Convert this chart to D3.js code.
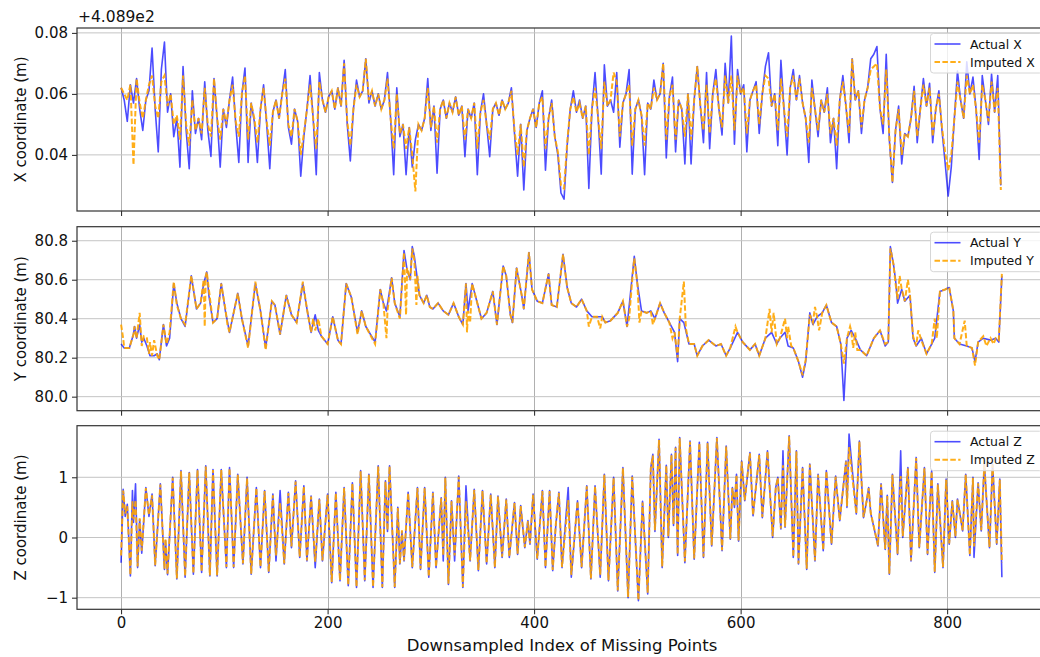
<!DOCTYPE html>
<html><head><meta charset="utf-8">
<script src="https://cdn.jsdelivr.net/npm/d3@7"></script>
<style>body{margin:0;background:#fff}svg{display:block}text{font-family:"DejaVu Sans",sans-serif;fill:#111}</style>
</head><body><svg id="c" width="1040" height="657"></svg>
<script>
// ---------- data ----------
const xTickValues = [0, 200, 400, 600, 800];
const xOffsetText = "+4.089e2";
const xSampleIndex = d3.range(0, 855, 3); // downsampled index positions for X series
const xActual = [
0.062,0.058,0.051,0.063,0.057,0.065,0.055,0.048,0.058,0.061,
0.075,0.055,0.041,0.068,0.077,0.054,0.060,0.046,0.052,0.036,
0.069,0.048,0.0355,0.061,0.047,0.052,0.045,0.064,0.048,0.0395,
0.065,0.052,0.036,0.055,0.049,0.058,0.0655,0.050,0.0375,0.060,
0.0685,0.0375,0.057,0.051,0.0375,0.055,0.063,0.050,0.0355,0.054,
0.058,0.052,0.060,0.068,0.049,0.0435,0.055,0.051,0.033,0.046,
0.055,0.066,0.052,0.0335,0.067,0.058,0.054,0.059,0.061,0.055,
0.062,0.056,0.071,0.050,0.038,0.055,0.0645,0.059,0.061,0.0715,
0.057,0.061,0.056,0.060,0.055,0.058,0.067,0.052,0.0335,0.062,
0.046,0.050,0.0335,0.049,0.036,0.045,0.050,0.048,0.052,0.065,
0.048,0.056,0.034,0.055,0.058,0.052,0.057,0.054,0.059,0.053,
0.056,0.0394,0.055,0.052,0.057,0.0335,0.054,0.060,0.050,0.0394,
0.055,0.057,0.053,0.058,0.055,0.057,0.062,0.047,0.033,0.050,
0.0285,0.048,0.052,0.055,0.049,0.057,0.061,0.035,0.052,0.058,
0.046,0.040,0.0275,0.0255,0.043,0.055,0.061,0.054,0.058,0.052,
0.056,0.029,0.055,0.067,0.052,0.0337,0.0695,0.056,0.058,0.054,
0.067,0.0425,0.057,0.060,0.068,0.0337,0.055,0.058,0.053,0.0335,
0.057,0.055,0.0645,0.058,0.060,0.070,0.039,0.059,0.0655,0.041,
0.058,0.055,0.037,0.060,0.037,0.058,0.069,0.056,0.044,0.067,
0.042,0.060,0.068,0.055,0.0465,0.070,0.057,0.079,0.0435,0.068,
0.060,0.063,0.041,0.058,0.061,0.064,0.047,0.060,0.069,0.0735,
0.056,0.060,0.043,0.071,0.055,0.040,0.062,0.068,0.058,0.066,
0.057,0.052,0.0375,0.0645,0.055,0.046,0.058,0.054,0.062,0.044,
0.052,0.0355,0.058,0.066,0.056,0.044,0.0715,0.058,0.061,0.047,
0.058,0.062,0.0715,0.073,0.0755,0.055,0.047,0.073,0.045,0.031,
0.048,0.056,0.037,0.047,0.046,0.052,0.0625,0.044,0.055,0.065,
0.056,0.0635,0.044,0.055,0.061,0.048,0.0375,0.0265,0.036,0.052,
0.0675,0.058,0.052,0.0705,0.060,0.0655,0.055,0.0385,0.066,0.058,0.050,0.0665,0.054,0.066,0.030];
const xImputed = [
0.062,0.060,0.058,0.063,0.0367,0.065,0.057,0.052,0.058,0.063,
0.066,0.056,0.052,0.064,0.066,0.056,0.060,0.050,0.053,0.045,
0.066,0.050,0.043,0.058,0.048,0.052,0.047,0.062,0.050,0.046,
0.065,0.052,0.045,0.055,0.050,0.058,0.063,0.051,0.046,0.060,
0.066,0.045,0.057,0.052,0.044,0.055,0.062,0.051,0.043,0.054,
0.058,0.052,0.060,0.065,0.050,0.046,0.055,0.051,0.040,0.047,
0.055,0.063,0.052,0.042,0.064,0.058,0.054,0.059,0.061,0.055,
0.062,0.056,0.070,0.051,0.043,0.055,0.063,0.059,0.061,0.0715,
0.058,0.061,0.056,0.060,0.055,0.058,0.065,0.052,0.042,0.060,
0.047,0.050,0.042,0.049,0.040,0.028,0.050,0.048,0.052,0.062,
0.049,0.056,0.044,0.055,0.058,0.052,0.057,0.054,0.059,0.053,
0.056,0.045,0.055,0.052,0.057,0.042,0.054,0.058,0.050,0.045,
0.055,0.057,0.053,0.058,0.055,0.057,0.061,0.048,0.040,0.050,
0.036,0.048,0.052,0.055,0.049,0.057,0.059,0.042,0.052,0.057,
0.046,0.041,0.030,0.029,0.044,0.055,0.059,0.054,0.057,0.052,
0.056,0.040,0.055,0.062,0.052,0.042,0.064,0.056,0.058,0.067,
0.064,0.046,0.057,0.060,0.063,0.043,0.055,0.058,0.053,0.043,
0.057,0.055,0.062,0.058,0.060,0.070,0.045,0.059,0.063,0.045,
0.058,0.055,0.046,0.060,0.045,0.058,0.069,0.056,0.048,0.063,
0.047,0.060,0.065,0.055,0.049,0.066,0.057,0.066,0.048,0.066,
0.060,0.062,0.047,0.058,0.061,0.063,0.050,0.060,0.066,0.065,
0.056,0.060,0.048,0.065,0.055,0.046,0.062,0.066,0.058,0.065,
0.057,0.052,0.044,0.062,0.055,0.048,0.058,0.054,0.060,0.047,
0.052,0.043,0.058,0.064,0.056,0.047,0.0715,0.058,0.061,0.049,
0.058,0.062,0.068,0.069,0.070,0.055,0.050,0.068,0.046,0.031,
0.048,0.055,0.040,0.047,0.046,0.052,0.061,0.046,0.055,0.063,
0.056,0.062,0.046,0.055,0.060,0.049,0.041,0.035,0.040,0.052,
0.064,0.058,0.052,0.066,0.060,0.063,0.055,0.044,0.063,0.058,0.051,0.064,0.054,0.062,0.0285];

// Y series as [index, value] pairs
const yActual = [[0,80.27],[3,80.25],[8,80.25],[12,80.32],[13,80.36],[15,80.30],[18,80.37],[20,80.28],[22,80.30],[25,80.26],[28,80.21],[32,80.21],[35,80.22],[37,80.19],[41,80.37],[44,80.26],[47,80.30],[51,80.58],[54,80.48],[58,80.40],[62,80.36],[68,80.62],[73,80.45],[77,80.48],[80,80.58],[83,80.64],[85,80.52],[89,80.38],[93,80.40],[97,80.58],[101,80.44],[105,80.33],[113,80.53],[117,80.40],[123,80.26],[130,80.58],[135,80.44],[140,80.25],[146,80.49],[149,80.47],[154,80.32],[160,80.52],[165,80.42],[170,80.38],[176,80.58],[180,80.45],[184,80.33],[188,80.42],[191,80.34],[194,80.31],[200,80.27],[205,80.41],[210,80.29],[213,80.27],[218,80.58],[223,80.51],[229,80.33],[233,80.44],[237,80.36],[246,80.28],[251,80.55],[254,80.48],[257,80.44],[262,80.61],[265,80.48],[270,80.41],[274,80.75],[277,80.65],[280,80.60],[282,80.77],[284,80.72],[289,80.52],[293,80.48],[296,80.52],[299,80.46],[302,80.45],[307,80.48],[312,80.44],[317,80.42],[322,80.48],[327,80.41],[331,80.37],[334,80.58],[336,80.44],[340,80.58],[344,80.50],[349,80.40],[354,80.43],[360,80.54],[364,80.37],[370,80.67],[373,80.62],[377,80.42],[379,80.38],[383,80.66],[388,80.52],[390,80.45],[395,80.74],[398,80.55],[403,80.49],[408,80.48],[414,80.63],[417,80.47],[422,80.46],[428,80.73],[432,80.56],[436,80.48],[441,80.46],[446,80.50],[451,80.44],[456,80.41],[461,80.41],[466,80.41],[469,80.38],[474,80.39],[481,80.43],[486,80.49],[490,80.36],[497,80.72],[500,80.58],[504,80.44],[509,80.43],[513,80.44],[517,80.40],[522,80.48],[526,80.43],[531,80.38],[536,80.33],[539,80.18],[541,80.40],[545,80.38],[550,80.27],[555,80.27],[558,80.21],[563,80.26],[569,80.29],[576,80.26],[581,80.27],[586,80.21],[590,80.25],[597,80.33],[602,80.28],[609,80.24],[614,80.27],[618,80.21],[624,80.30],[630,80.33],[635,80.27],[638,80.30],[643,80.33],[646,80.26],[651,80.25],[656,80.18],[660,80.10],[663,80.18],[667,80.43],[670,80.37],[674,80.41],[679,80.43],[683,80.47],[688,80.38],[693,80.36],[697,80.27],[700,79.98],[703,80.30],[707,80.34],[711,80.30],[716,80.24],[722,80.21],[729,80.30],[735,80.34],[740,80.26],[743,80.28],[745,80.77],[748,80.68],[750,80.60],[752,80.48],[756,80.55],[759,80.49],[764,80.52],[767,80.30],[770,80.26],[775,80.30],[780,80.22],[785,80.27],[788,80.30],[793,80.54],[798,80.55],[802,80.56],[806,80.44],[807,80.30],[812,80.27],[819,80.26],[824,80.25],[827,80.18],[830,80.28],[835,80.30],[842,80.29],[847,80.30],[850,80.28],[853,80.62]];
const yImputed = [[0,80.37],[2,80.30],[3,80.25],[8,80.25],[12,80.32],[13,80.36],[15,80.30],[18,80.43],[20,80.26],[22,80.31],[25,80.30],[27,80.22],[28,80.28],[30,80.21],[32,80.29],[35,80.21],[37,80.19],[41,80.37],[44,80.27],[47,80.33],[51,80.59],[54,80.47],[58,80.40],[62,80.37],[68,80.62],[73,80.45],[77,80.48],[80,80.60],[81,80.36],[82,80.62],[83,80.64],[85,80.55],[89,80.38],[93,80.40],[97,80.58],[101,80.45],[103,80.37],[105,80.33],[113,80.53],[117,80.40],[123,80.25],[130,80.59],[135,80.44],[140,80.24],[146,80.49],[149,80.47],[154,80.32],[160,80.52],[165,80.42],[170,80.38],[176,80.59],[180,80.45],[184,80.33],[186,80.40],[188,80.34],[191,80.40],[194,80.31],[200,80.27],[205,80.41],[210,80.29],[213,80.27],[218,80.58],[223,80.51],[229,80.32],[233,80.44],[237,80.36],[246,80.27],[251,80.55],[254,80.48],[257,80.30],[258,80.44],[262,80.61],[265,80.48],[270,80.40],[274,80.74],[276,80.42],[277,80.66],[280,80.60],[282,80.76],[284,80.70],[286,80.47],[287,80.62],[289,80.52],[293,80.48],[296,80.52],[299,80.46],[302,80.45],[307,80.48],[312,80.44],[317,80.42],[322,80.48],[327,80.41],[331,80.37],[334,80.58],[335,80.33],[336,80.44],[338,80.38],[340,80.58],[344,80.50],[349,80.40],[354,80.43],[360,80.54],[364,80.37],[370,80.67],[373,80.62],[377,80.42],[379,80.38],[383,80.66],[388,80.52],[390,80.45],[395,80.74],[398,80.55],[403,80.49],[408,80.48],[414,80.63],[417,80.47],[422,80.46],[428,80.73],[432,80.56],[436,80.48],[441,80.46],[446,80.50],[451,80.44],[453,80.36],[456,80.41],[461,80.41],[464,80.35],[466,80.41],[469,80.38],[474,80.39],[481,80.43],[486,80.49],[490,80.36],[492,80.40],[495,80.60],[497,80.71],[500,80.58],[502,80.38],[504,80.44],[509,80.43],[513,80.44],[515,80.37],[517,80.40],[522,80.48],[526,80.43],[531,80.38],[534,80.30],[536,80.33],[539,80.20],[541,80.40],[545,80.59],[547,80.35],[550,80.27],[555,80.27],[558,80.21],[563,80.26],[569,80.29],[576,80.26],[581,80.27],[586,80.21],[590,80.25],[595,80.36],[597,80.33],[602,80.28],[609,80.24],[614,80.27],[618,80.21],[624,80.30],[628,80.45],[630,80.33],[632,80.43],[635,80.27],[638,80.30],[643,80.40],[645,80.30],[646,80.36],[649,80.26],[651,80.25],[656,80.18],[660,80.11],[663,80.19],[667,80.42],[670,80.38],[672,80.46],[674,80.41],[676,80.34],[679,80.43],[683,80.47],[688,80.38],[693,80.36],[697,80.27],[700,80.17],[703,80.30],[706,80.36],[707,80.34],[709,80.25],[711,80.33],[713,80.24],[716,80.24],[722,80.21],[729,80.30],[735,80.34],[740,80.27],[743,80.28],[745,80.76],[748,80.68],[750,80.58],[752,80.50],[754,80.62],[756,80.55],[759,80.49],[762,80.60],[764,80.52],[767,80.31],[770,80.26],[772,80.34],[775,80.29],[780,80.22],[785,80.27],[788,80.40],[790,80.30],[793,80.54],[798,80.55],[802,80.56],[806,80.44],[807,80.30],[812,80.27],[817,80.39],[819,80.26],[824,80.25],[827,80.16],[830,80.28],[835,80.31],[838,80.26],[842,80.30],[845,80.27],[847,80.30],[850,80.29],[853,80.63]];

// Z series as [index, value] pairs (peaks and troughs)
const zActual = [[0,-0.42],[2,0.80],[4,0.35],[6,0.55],[9,-0.64],[11,0.78],[12,0.25],[14,0.89],[16,-0.50],[18,0.30],[20,-0.26],[24,0.83],[27,0.35],[30,0.72],[33,-0.47],[38,0.89],[42,-0.53],[43,-0.05],[45,-0.62],[50,1.00],[54,-0.69],[58,1.11],[62,-0.66],[66,1.08],[70,-0.61],[74,1.13],[78,-0.58],[82,1.19],[86,-0.64],[89,1.13],[93,-0.64],[97,1.13],[102,-0.50],[105,1.16],[109,-0.50],[113,1.05],[118,-0.44],[122,1.00],[126,-0.61],[131,0.83],[135,-0.50],[139,0.78],[143,-0.58],[147,0.72],[150,-0.39],[154,0.78],[158,-0.44],[162,0.75],[165,-0.17],[169,0.94],[173,-0.33],[177,0.86],[180,-0.39],[184,0.69],[188,-0.50],[192,0.64],[195,-0.39],[200,0.72],[204,-0.75],[208,0.75],[212,-0.72],[216,0.83],[220,-0.80],[224,0.91],[228,-0.83],[232,1.11],[236,-0.72],[240,1.05],[244,-0.83],[249,1.19],[253,-0.83],[256,0.94],[258,0.10],[260,1.19],[265,-0.83],[268,0.50],[270,-0.44],[272,0.10],[274,-0.39],[278,0.75],[282,-0.50],[287,0.83],[290,-0.53],[294,0.83],[298,-0.66],[302,0.75],[305,-0.50],[310,0.66],[312,-0.39],[314,1.00],[317,-0.78],[320,0.61],[323,-0.39],[327,1.02],[331,-0.83],[334,0.86],[338,-0.39],[342,0.80],[346,-0.55],[350,0.78],[354,-0.44],[358,0.72],[362,-0.50],[365,0.69],[369,-0.33],[373,0.64],[376,-0.33],[381,0.58],[384,-0.28],[387,0.53],[391,-0.17],[394,0.28],[396,-0.11],[399,0.72],[403,-0.36],[408,0.78],[411,-0.50],[415,0.78],[418,-0.55],[421,0.20],[424,0.75],[427,-0.50],[433,0.83],[436,-0.66],[442,0.61],[446,-0.50],[451,0.86],[455,-0.69],[459,0.86],[464,-0.66],[468,1.05],[472,-0.72],[477,1.00],[481,-0.89],[486,1.16],[491,-1.00],[495,1.02],[501,-1.05],[505,0.60],[510,-0.94],[513,1.16],[515,1.38],[517,0.10],[521,1.63],[524,-0.50],[528,1.20],[530,0.00],[533,1.38],[535,0.20],[537,1.50],[539,-0.30],[541,1.66],[546,-0.42],[551,1.60],[555,-0.36],[560,1.58],[564,-0.33],[568,1.58],[572,-0.14],[577,1.66],[582,-0.22],[586,1.52],[590,-0.03],[592,0.83],[594,0.50],[596,1.05],[598,-0.06],[601,1.27],[604,0.61],[609,1.41],[612,0.36],[618,1.38],[621,0.33],[626,1.44],[631,0.00],[634,0.83],[636,1.00],[639,0.14],[641,1.44],[643,0.17],[647,1.69],[651,-0.33],[654,1.44],[656,-0.44],[660,1.16],[664,-0.53],[667,1.22],[672,-0.39],[675,1.05],[680,-0.22],[683,1.11],[688,-0.11],[692,1.02],[696,0.28],[702,1.27],[703,0.50],[705,1.72],[712,0.39],[715,1.60],[719,0.33],[722,0.60],[724,0.83],[726,0.40],[733,-0.14],[736,0.89],[740,-0.20],[742,0.70],[744,-0.61],[747,1.05],[752,-0.28],[755,1.44],[757,0.00],[762,1.16],[765,-0.39],[770,1.33],[773,-0.17],[778,1.16],[781,-0.28],[785,1.11],[788,-0.58],[791,0.89],[796,-0.50],[799,0.97],[802,-0.11],[805,0.61],[808,0.00],[810,0.64],[815,0.11],[818,1.05],[822,-0.30],[825,1.00],[826,-0.33],[830,0.91],[833,0.11],[836,1.22],[841,-0.17],[844,1.22],[848,-0.11],[851,0.97],[853,-0.66]];
const zImputed = [[0,-0.30],[2,0.78],[4,0.40],[6,0.52],[9,-0.62],[11,0.60],[12,0.30],[14,0.62],[16,-0.48],[18,0.32],[20,-0.22],[24,0.82],[27,0.38],[30,0.70],[33,-0.46],[38,0.88],[42,-0.52],[43,-0.02],[45,-0.60],[50,0.99],[54,-0.68],[58,1.10],[62,-0.64],[66,1.08],[70,-0.60],[74,1.12],[78,-0.57],[82,1.18],[86,-0.63],[89,1.12],[93,-0.63],[97,1.12],[102,-0.49],[105,1.15],[109,-0.49],[113,1.04],[118,-0.43],[122,0.98],[126,-0.60],[131,0.82],[135,-0.49],[139,0.77],[143,-0.57],[147,0.70],[150,-0.30],[154,0.58],[158,-0.43],[162,0.74],[165,-0.15],[169,0.93],[173,-0.32],[177,0.85],[180,-0.38],[184,0.68],[188,-0.40],[192,0.63],[195,-0.38],[200,0.71],[204,-0.74],[208,0.74],[212,-0.71],[216,0.82],[220,-0.79],[224,0.90],[228,-0.82],[232,1.10],[236,-0.71],[240,1.04],[244,-0.82],[249,1.18],[253,-0.82],[256,0.93],[258,0.12],[260,1.18],[265,-0.82],[268,0.49],[270,-0.43],[272,0.12],[274,-0.38],[278,0.74],[282,-0.49],[287,0.82],[290,-0.52],[294,0.82],[298,-0.65],[302,0.74],[305,-0.49],[310,0.65],[312,-0.30],[314,0.99],[317,-0.77],[320,0.60],[323,-0.30],[327,1.01],[331,-0.82],[334,0.60],[338,-0.38],[342,0.79],[346,-0.54],[350,0.77],[354,-0.43],[358,0.71],[362,-0.49],[365,0.68],[369,-0.32],[373,0.63],[376,-0.32],[381,0.57],[384,-0.27],[387,0.52],[391,-0.16],[394,0.27],[396,-0.10],[399,0.71],[403,-0.35],[408,0.77],[411,-0.49],[415,0.77],[418,-0.54],[421,0.22],[424,0.74],[427,-0.49],[433,0.62],[436,-0.62],[442,0.60],[446,-0.49],[451,0.85],[455,-0.68],[459,0.85],[464,-0.62],[468,1.04],[472,-0.71],[477,0.99],[481,-0.88],[486,1.15],[491,-0.99],[495,1.01],[501,-1.04],[505,0.58],[510,-0.92],[513,1.15],[515,1.36],[517,0.12],[521,1.62],[524,-0.48],[528,1.19],[530,0.02],[533,1.37],[535,0.22],[537,1.49],[539,-0.28],[541,1.65],[546,-0.40],[551,1.59],[555,-0.35],[560,1.57],[564,-0.32],[568,1.57],[572,-0.13],[577,1.65],[582,-0.21],[586,1.51],[590,-0.02],[592,0.82],[594,0.52],[596,1.04],[598,-0.05],[601,1.26],[604,0.62],[609,1.40],[612,0.37],[618,1.37],[621,0.34],[626,1.43],[631,0.02],[634,0.82],[636,0.99],[639,0.15],[641,1.20],[643,0.18],[647,1.68],[651,-0.32],[654,1.43],[656,-0.43],[660,1.15],[664,-0.52],[667,1.21],[672,-0.38],[675,1.04],[680,-0.21],[683,1.10],[688,-0.10],[692,1.01],[696,0.29],[702,1.26],[703,0.52],[705,1.50],[712,0.40],[715,1.59],[719,0.34],[722,0.61],[724,0.82],[726,0.41],[733,-0.13],[736,0.88],[740,-0.19],[742,0.69],[744,-0.60],[747,1.04],[752,-0.27],[755,1.02],[757,0.02],[762,1.15],[765,-0.38],[770,1.32],[773,-0.16],[778,1.15],[781,-0.27],[785,1.10],[788,-0.57],[791,0.88],[796,-0.49],[799,0.96],[802,-0.10],[805,0.60],[808,0.02],[810,0.63],[815,0.12],[818,1.04],[822,-0.29],[825,0.99],[826,-0.15],[830,0.90],[833,0.12],[836,1.21],[841,-0.16],[844,1.21],[848,-0.10],[851,0.96],[853,-0.42]];

// ---------- drawing ----------
const svg = d3.select("#c");
const W = 1040;
const xScale = d3.scaleLinear().domain([-42.7, 896.7]).range([77, 1047]);
const blue = "#0000ff", orange = "#ffa500";

const zip = (idx, vals) => vals.map((v, i) => [idx[i], v]);
const panels = [
  {top: 28, bottom: 211, domain: [0.0216, 0.0816], ticks: [0.04, 0.06, 0.08], fmt: d3.format(".2f"),
   label: "X coordinate (m)", actual: zip(xSampleIndex, xActual), imputed: zip(xSampleIndex, xImputed), names: ["Actual X", "Imputed X"]},
  {top: 226.7, bottom: 410.7, domain: [79.928, 80.872], ticks: [80.0, 80.2, 80.4, 80.6, 80.8], fmt: d3.format(".1f"),
   label: "Y coordinate (m)", actual: yActual, imputed: yImputed, names: ["Actual Y", "Imputed Y"]},
  {top: 425.7, bottom: 609.3, domain: [-1.193, 1.857], ticks: [-1, 0, 1], fmt: d => d < 0 ? "\u2212" + Math.abs(d) : String(d),
   label: "Z coordinate (m)", actual: zActual, imputed: zImputed, names: ["Actual Z", "Imputed Z"]}
];

panels.forEach((p, pi) => {
  const y = d3.scaleLinear().domain(p.domain).range([p.bottom, p.top]);
  const g = svg.append("g");
  const clipId = "clip" + pi;
  svg.append("clipPath").attr("id", clipId).append("rect")
    .attr("x", xScale.range()[0]).attr("y", p.top).attr("width", xScale.range()[1] - xScale.range()[0]).attr("height", p.bottom - p.top);

  // grid
  g.append("g").selectAll("line").data(xTickValues).join("line")
    .attr("x1", d => Math.round(xScale(d)) + 0.5).attr("x2", d => Math.round(xScale(d)) + 0.5)
    .attr("y1", p.top).attr("y2", p.bottom).attr("stroke", "#b0b0b0").attr("stroke-width", 1);
  g.append("g").selectAll("line").data(p.ticks).join("line")
    .attr("x1", xScale.range()[0]).attr("x2", xScale.range()[1])
    .attr("y1", d => y(d)).attr("y2", d => y(d)).attr("stroke", "#c4c4c4").attr("stroke-width", 1);

  const line = d3.line().x(d => xScale(d[0])).y(d => y(d[1]));
  const data = g.append("g").attr("clip-path", `url(#${clipId})`);
  data.append("path").attr("d", line(p.actual)).attr("fill", "none")
    .attr("stroke", blue).attr("stroke-opacity", 0.7).attr("stroke-width", 1.6).attr("stroke-linejoin", "round");
  data.append("path").attr("d", line(p.imputed)).attr("fill", "none")
    .attr("stroke", orange).attr("stroke-opacity", 0.9).attr("stroke-width", 2).attr("stroke-dasharray", "5.5,2.4");

  // axes
  const ax = d3.axisLeft(y).tickValues(p.ticks).tickFormat(p.fmt).tickSize(5).tickPadding(4);
  const axg = g.append("g").attr("transform", `translate(${xScale.range()[0]},0)`).call(ax);
  axg.select(".domain").remove();
  axg.selectAll("text").attr("font-size", 15).attr("font-family", "DejaVu Sans").attr("fill", "#111");
  axg.selectAll("line").attr("stroke", "#222");
  const bx = d3.axisBottom(xScale).tickValues(xTickValues).tickSize(5).tickPadding(3)
    .tickFormat(pi === 2 ? d3.format("d") : () => "");
  const bxg = g.append("g").attr("transform", `translate(0,${p.bottom})`).call(bx);
  bxg.select(".domain").remove();
  bxg.selectAll("text").attr("font-size", 15).attr("font-family", "DejaVu Sans").attr("fill", "#111");
  bxg.selectAll("line").attr("stroke", "#222");

  // frame
  g.append("rect").attr("x", xScale.range()[0]).attr("y", p.top)
    .attr("width", xScale.range()[1] - xScale.range()[0]).attr("height", p.bottom - p.top)
    .attr("fill", "none").attr("stroke", "#333").attr("stroke-width", 1.2);

  // y label
  g.append("text").attr("transform", `translate(25.5,${(p.top + p.bottom) / 2}) rotate(-90)`)
    .attr("text-anchor", "middle").attr("font-size", 15).text(p.label);

  // legend
  const lt = p.top + 5.5;
  const lg = g.append("g");
  lg.append("rect").attr("x", 930.5).attr("y", lt).attr("width", 112).attr("height", 39.5).attr("rx", 3)
    .attr("fill", "#fff").attr("fill-opacity", 0.8).attr("stroke", "#d6d6d6").attr("stroke-width", 1);
  [[0, blue, 0.7, 1.6, null], [1, orange, 0.9, 2, "5.5,2.4"]].forEach(([k, c, op, w, dash]) => {
    const cy = lt + 10.5 + k * 18;
    lg.append("line").attr("x1", 934.5).attr("x2", 960.5).attr("y1", cy).attr("y2", cy)
      .attr("stroke", c).attr("stroke-opacity", op).attr("stroke-width", w).attr("stroke-dasharray", dash);
    lg.append("text").attr("x", 970).attr("y", cy + 4.5).attr("font-size", 12.5).text(p.names[k]);
  });
});

// offset text
svg.append("text").attr("x", 78).attr("y", 22).attr("font-size", 15.5).text(xOffsetText);
// x label
svg.append("text").attr("x", 562).attr("y", 651).attr("text-anchor", "middle").attr("font-size", 16.5)
  .text("Downsampled Index of Missing Points");
</script></body></html>
